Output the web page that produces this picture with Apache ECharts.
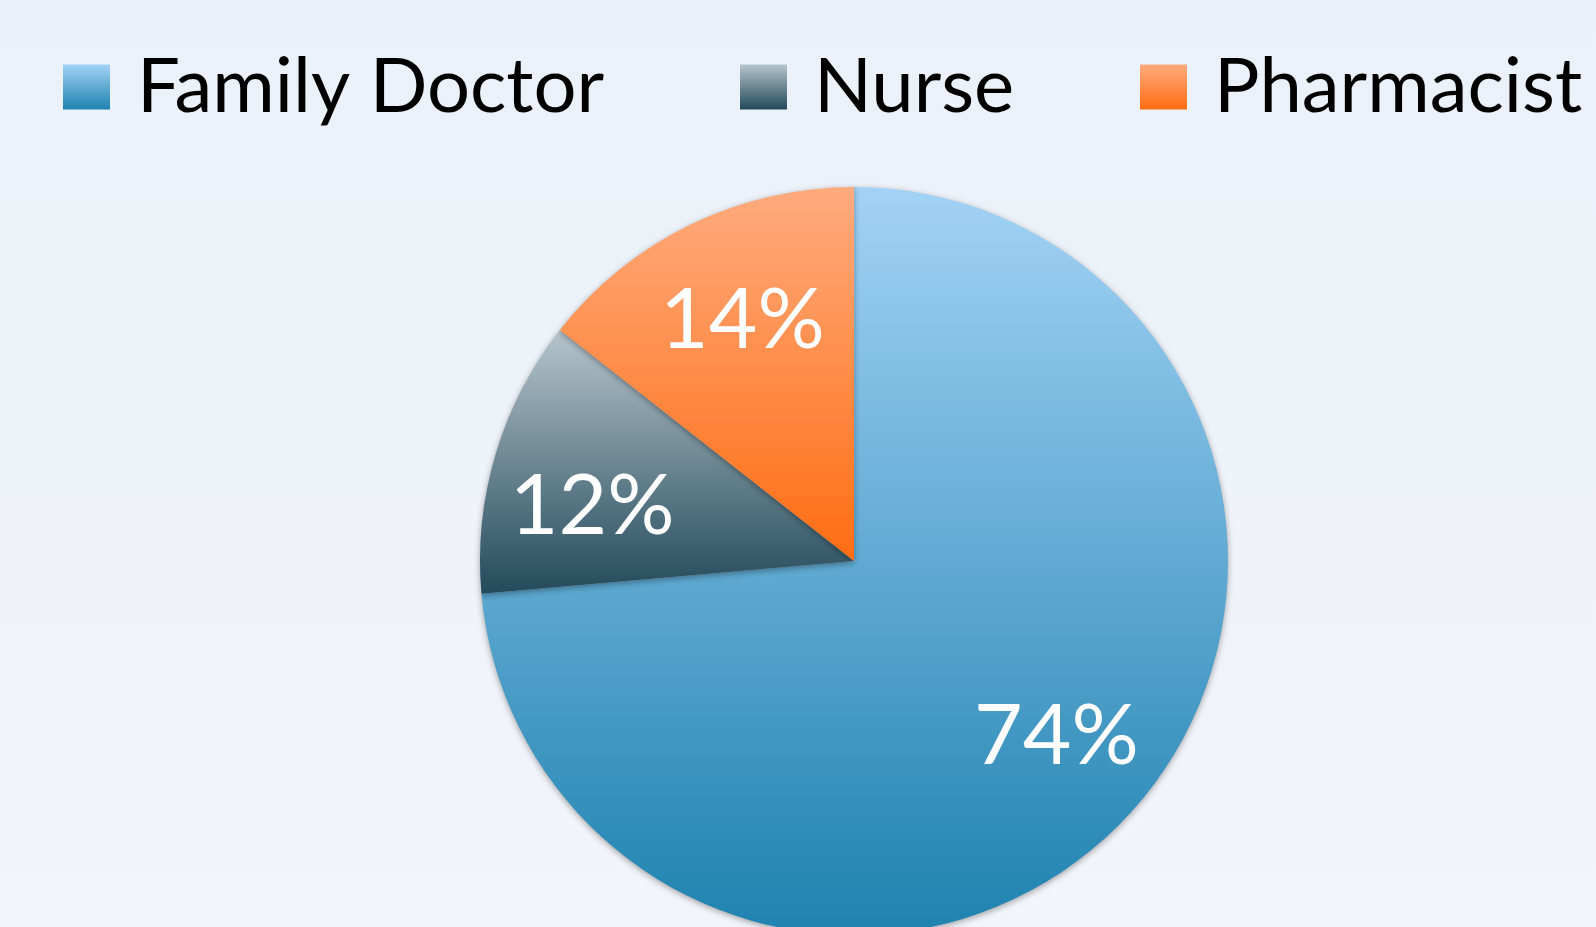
<!DOCTYPE html>
<html>
<head>
<meta charset="utf-8">
<script src="https://cdn.jsdelivr.net/npm/echarts@6/dist/echarts.min.js"></script>
<style>
  html, body { margin: 0; padding: 0; }
  #chart { width: 1596px; height: 927px; }
</style>
</head>
<body>
<div id="chart"></div>
<script>
// data
const categories = ['Family Doctor', 'Nurse', 'Pharmacist']
const shares = [73.6, 12.0, 14.4]
const topColors = ['#A3D2F6', '#B6C4CC', '#FFAB7E']
const bottomColors = ['#1E82AF', '#234A5B', '#FF6D12']
const legendLeft = [63, 740, 1140]
// small nudges of the percentage labels (px)
const labelShift = [[4, -6], [-4, 23], [6, 2]]

const grad = (i) => new echarts.graphic.LinearGradient(0, 0, 0, 1, [
  { offset: 0, color: topColors[i] },
  { offset: 1, color: bottomColors[i] }
])

const pieData = categories.map((name, i) => ({
  name: name,
  value: shares[i],
  itemStyle: { color: grad(i) }
}))

const chart = echarts.init(document.getElementById('chart'))

const options = {
  backgroundColor: new echarts.graphic.LinearGradient(0, 0, 0, 1, [
    { offset: 0, color: '#EBF1F9' },
    { offset: 1, color: '#F2F5FA' }
  ]),
  animation: false,
  legend: categories.map((name, i) => ({
    data: [name],
    left: legendLeft[i],
    top: 49,
    padding: 0,
    icon: 'rect',
    itemWidth: 47,
    itemHeight: 45,
    selectedMode: false,
    textStyle: {
      fontFamily: 'Lato',
      fontSize: 76,
      color: '#000',
      padding: [0, 0, 0, 22]
    }
  })),
  series: [
    {
      type: 'pie',
      center: [854, 561],
      radius: 374,
      startAngle: 90,
      clockwise: true,
      data: pieData,
      label: { show: false },
      labelLine: { show: false },
      itemStyle: {
        shadowBlur: 6,
        shadowColor: 'rgba(0,0,0,0.35)',
        shadowOffsetY: 2
      },
      emphasis: { disabled: true }
    },
    {
      // transparent ring only to place the percentage labels further out
      type: 'pie',
      center: [854, 561],
      radius: [232, 300],
      startAngle: 90,
      clockwise: true,
      silent: true,
      data: categories.map((name, i) => ({
        name: name,
        value: shares[i],
        label: { offset: labelShift[i] }
      })),
      itemStyle: { color: 'transparent' },
      label: {
        show: true,
        position: 'inside',
        fontFamily: 'Lato',
        fontSize: 84,
        color: '#fff',
        formatter: (p) => Math.round(p.value) + '%'
      },
      labelLine: { show: false },
      emphasis: { disabled: true }
    }
  ]
}

chart.setOption(options)
</script>
</body>
</html>
